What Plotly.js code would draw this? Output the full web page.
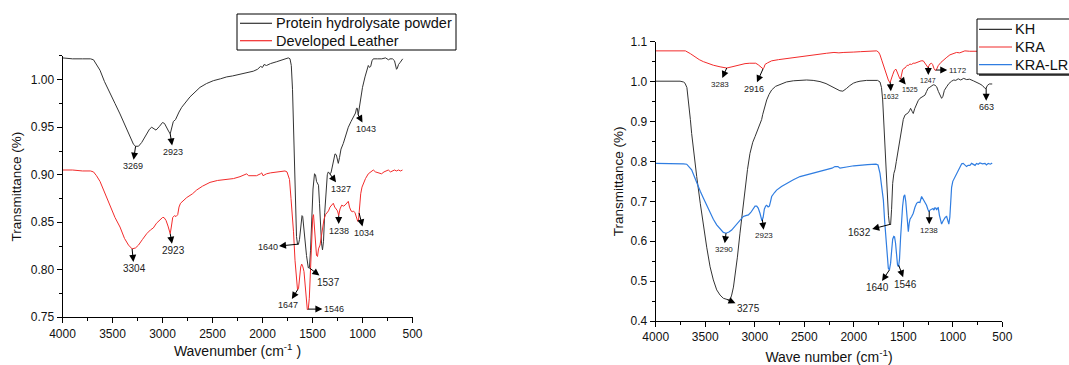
<!DOCTYPE html>
<html>
<head>
<meta charset="utf-8">
<script src="https://cdn.plot.ly/plotly-3.0.1.min.js"></script>
<style>html,body{margin:0;padding:0;background:#fff;}#chart{width:1069px;height:365px;}</style>
</head>
<body>
<div id="chart"></div>
<script>
// ---------- Left panel data ----------
const leftPhpWn = [4000,3900,3800,3720,3690,3660,3625,3580,3525,3475,3425,3375,3325,3290,3269,3240,3208,3180,3158,3130,3108,3085,3065,3030,3000,2980,2958,2940,2923,2910,2892,2870,2858,2835,2808,2770,2725,2675,2625,2560,2492,2420,2358,2300,2225,2160,2092,2050,2020,2000,1985,1960,1920,1858,1800,1760,1742,1725,1712,1700,1690,1680,1670,1660,1650,1640,1630,1618,1605,1598,1588,1575,1560,1542,1530,1520,1508,1495,1480,1470,1460,1450,1440,1430,1420,1410,1400,1390,1378,1365,1352,1342,1327,1315,1300,1290,1275,1262,1250,1242,1230,1215,1192,1170,1142,1115,1092,1070,1060,1052,1043,1035,1018,1000,975,960,942,930,918,905,892,850,808,770,740,725,700,680,670,660,652,640,625,610,598];
const leftPhpT = [1.023,1.022,1.022,1.022,1.021,1.016,1.010,0.998,0.985,0.975,0.964,0.952,0.940,0.932,0.930,0.930,0.934,0.939,0.944,0.948,0.950,0.948,0.947,0.951,0.955,0.954,0.949,0.946,0.943,0.948,0.956,0.958,0.961,0.966,0.971,0.976,0.982,0.987,0.992,0.996,0.999,1.001,1.003,1.004,1.006,1.008,1.009,1.011,1.014,1.013,1.016,1.015,1.017,1.019,1.021,1.022,1.023,1.022,1.015,0.990,0.950,0.900,0.860,0.835,0.827,0.827,0.832,0.848,0.857,0.856,0.845,0.830,0.815,0.802,0.803,0.820,0.850,0.885,0.901,0.900,0.893,0.891,0.889,0.870,0.845,0.828,0.821,0.830,0.860,0.885,0.900,0.903,0.901,0.902,0.910,0.918,0.922,0.921,0.914,0.912,0.918,0.927,0.933,0.940,0.950,0.956,0.961,0.965,0.970,0.970,0.963,0.968,0.982,0.992,1.003,1.010,1.015,1.013,1.014,1.020,1.022,1.022,1.022,1.023,1.021,1.022,1.022,1.020,1.016,1.011,1.012,1.016,1.018,1.021,1.022];

const leftLeatherWn = [4000,3900,3800,3720,3690,3660,3625,3575,3525,3475,3425,3380,3340,3304,3270,3240,3200,3158,3120,3092,3060,3030,3000,2985,2965,2945,2930,2923,2912,2898,2880,2865,2848,2835,2820,2790,2758,2700,2658,2600,2525,2450,2358,2290,2225,2175,2158,2140,2100,2060,2020,2008,1995,1960,1920,1860,1800,1775,1755,1730,1715,1700,1690,1675,1660,1650,1640,1630,1618,1608,1596,1585,1570,1560,1552,1542,1532,1520,1508,1498,1490,1480,1470,1460,1450,1440,1425,1412,1400,1385,1370,1358,1340,1325,1310,1292,1278,1262,1250,1238,1225,1208,1190,1175,1160,1142,1130,1115,1100,1092,1075,1060,1048,1040,1030,1018,1005,992,970,942,915,892,870,840,810,785,760,742,720,700,680,660,640,620,600];
const leftLeatherT = [0.905,0.905,0.904,0.904,0.903,0.899,0.893,0.880,0.866,0.855,0.845,0.833,0.826,0.822,0.823,0.826,0.832,0.838,0.842,0.844,0.849,0.852,0.855,0.855,0.852,0.846,0.840,0.838,0.845,0.855,0.857,0.856,0.858,0.866,0.870,0.873,0.876,0.880,0.884,0.888,0.892,0.894,0.895,0.896,0.898,0.900,0.901,0.899,0.899,0.899,0.901,0.902,0.899,0.901,0.902,0.903,0.904,0.904,0.903,0.895,0.875,0.855,0.840,0.810,0.785,0.779,0.780,0.792,0.803,0.806,0.803,0.798,0.780,0.765,0.758,0.759,0.770,0.800,0.835,0.855,0.858,0.840,0.825,0.815,0.814,0.822,0.826,0.836,0.845,0.853,0.858,0.860,0.862,0.866,0.868,0.870,0.866,0.864,0.862,0.857,0.864,0.868,0.867,0.868,0.870,0.872,0.866,0.862,0.861,0.862,0.860,0.855,0.851,0.852,0.865,0.880,0.887,0.891,0.896,0.901,0.903,0.905,0.903,0.902,0.901,0.903,0.904,0.905,0.903,0.904,0.905,0.904,0.905,0.904,0.905];

// ---------- Right panel data ----------
const rightKhWn = [4000,3900,3800,3754,3720,3704,3685,3670,3650,3637,3610,3586,3550,3519,3485,3451,3418,3384,3350,3317,3290,3266,3245,3233,3215,3199,3175,3149,3123,3098,3073,3048,3020,2997,2970,2947,2930,2920,2900,2879,2855,2829,2790,2745,2680,2610,2540,2476,2410,2341,2280,2230,2180,2140,2110,2090,2072,2040,2004,1970,1937,1870,1803,1760,1735,1720,1708,1695,1685,1673,1661,1650,1641,1628,1618,1607,1595,1584,1570,1550,1535,1517,1500,1483,1465,1449,1435,1426,1410,1399,1385,1365,1350,1332,1310,1295,1281,1265,1250,1231,1210,1197,1180,1163,1145,1128,1113,1100,1085,1062,1040,1012,990,970,945,920,890,860,830,793,760,726,700,675,663,652,632,615,602];
const rightKhT = [1.001,1.001,1.001,1.001,0.999,0.996,0.985,0.954,0.905,0.870,0.810,0.762,0.695,0.637,0.585,0.536,0.503,0.478,0.465,0.457,0.454,0.453,0.456,0.465,0.485,0.511,0.560,0.620,0.680,0.737,0.780,0.820,0.848,0.862,0.879,0.895,0.905,0.917,0.936,0.954,0.968,0.979,0.988,0.993,0.999,1.002,1.004,1.004,1.003,1.000,0.995,0.989,0.982,0.977,0.976,0.979,0.983,0.990,0.996,0.999,1.001,1.003,1.004,1.003,0.999,0.985,0.954,0.890,0.829,0.760,0.703,0.665,0.645,0.641,0.680,0.745,0.770,0.779,0.800,0.829,0.860,0.887,0.905,0.916,0.920,0.922,0.928,0.933,0.925,0.920,0.932,0.945,0.952,0.958,0.962,0.964,0.966,0.975,0.983,0.986,0.991,0.992,0.991,0.987,0.975,0.965,0.958,0.963,0.978,0.987,0.995,1.001,1.004,1.003,1.007,1.004,1.008,1.005,1.006,1.002,0.999,0.994,0.990,0.983,0.983,0.990,0.994,0.993,0.994];

const rightKraWn = [4000,3900,3800,3700,3650,3603,3560,3519,3470,3418,3350,3283,3230,3182,3140,3098,3050,3014,2990,2964,2945,2930,2916,2905,2896,2870,2829,2760,2678,2580,2476,2380,2274,2200,2150,2100,2072,2000,1930,1870,1800,1769,1750,1735,1715,1695,1675,1651,1634,1620,1607,1590,1574,1562,1550,1535,1527,1515,1507,1495,1483,1470,1460,1449,1435,1416,1400,1382,1365,1348,1320,1298,1280,1264,1250,1240,1231,1215,1204,1190,1178,1165,1147,1120,1096,1060,1029,1000,980,962,930,900,878,830,793,750,700,650,600];
const rightKraT = [1.077,1.077,1.077,1.077,1.070,1.062,1.055,1.050,1.045,1.041,1.037,1.034,1.037,1.040,1.043,1.045,1.046,1.045,1.046,1.042,1.037,1.033,1.032,1.036,1.043,1.047,1.052,1.055,1.058,1.061,1.065,1.068,1.071,1.073,1.072,1.073,1.073,1.074,1.075,1.076,1.077,1.077,1.074,1.067,1.052,1.037,1.020,1.004,0.997,1.005,1.017,1.028,1.031,1.024,1.014,1.007,1.006,1.018,1.029,1.033,1.034,1.038,1.041,1.040,1.044,1.043,1.046,1.046,1.048,1.050,1.052,1.052,1.046,1.039,1.035,1.040,1.044,1.046,1.043,1.033,1.028,1.030,1.040,1.048,1.054,1.061,1.067,1.070,1.071,1.073,1.072,1.076,1.077,1.076,1.076,1.075,1.076,1.075,1.076];

const rightKraLrWn = [4000,3900,3800,3720,3687,3660,3637,3610,3586,3550,3519,3485,3451,3418,3384,3350,3317,3290,3260,3233,3200,3182,3150,3115,3090,3064,3040,3015,2997,2980,2965,2947,2935,2927,2915,2903,2890,2879,2865,2852,2840,2829,2800,2779,2730,2678,2610,2543,2470,2408,2340,2274,2220,2190,2160,2139,2100,2072,2000,1937,1860,1776,1755,1735,1718,1701,1688,1675,1660,1651,1640,1628,1618,1607,1596,1588,1578,1568,1558,1548,1538,1527,1517,1507,1495,1485,1475,1466,1455,1449,1440,1432,1415,1399,1382,1365,1350,1332,1315,1300,1281,1265,1252,1240,1230,1214,1200,1190,1180,1170,1163,1155,1147,1135,1125,1113,1100,1089,1075,1062,1050,1040,1030,1020,1012,1000,980,962,945,928,910,895,878,861,845,827,810,793,775,760,743,726,700,675,660,642,620,602];
const rightKraLrT = [0.795,0.795,0.794,0.794,0.793,0.786,0.779,0.762,0.745,0.725,0.708,0.690,0.670,0.655,0.641,0.630,0.622,0.620,0.623,0.628,0.637,0.643,0.653,0.662,0.664,0.666,0.672,0.682,0.688,0.688,0.683,0.670,0.660,0.651,0.660,0.680,0.688,0.690,0.686,0.688,0.700,0.712,0.722,0.728,0.737,0.745,0.754,0.762,0.767,0.770,0.774,0.779,0.783,0.787,0.787,0.783,0.784,0.786,0.789,0.791,0.792,0.793,0.791,0.770,0.740,0.703,0.650,0.603,0.560,0.532,0.528,0.545,0.575,0.605,0.612,0.611,0.595,0.565,0.540,0.536,0.555,0.610,0.655,0.687,0.712,0.716,0.700,0.670,0.630,0.624,0.645,0.655,0.662,0.670,0.685,0.695,0.698,0.697,0.712,0.706,0.697,0.690,0.680,0.674,0.678,0.680,0.682,0.678,0.684,0.683,0.678,0.683,0.684,0.665,0.650,0.643,0.650,0.655,0.660,0.662,0.650,0.643,0.660,0.700,0.735,0.750,0.760,0.766,0.778,0.787,0.794,0.795,0.790,0.787,0.790,0.790,0.795,0.792,0.790,0.795,0.793,0.796,0.794,0.795,0.791,0.795,0.793,0.796];

// ---------- Series names ----------
const leftNames = ['Protein hydrolysate powder', 'Developed Leather'];
const rightNames = ['KH', 'KRA', 'KRA-LR'];

// ---------- Peak labels (wavenumbers) ----------
const leftPhpPeaks = [3269, 2923, 1043, 1327, 1640, 1537];
const leftLeatherPeaks = [3304, 2923, 1647, 1546, 1238, 1034];
const rightKhPeaks = [3275, 1632, 663];
const rightKraPeaks = [3283, 2916, 1632, 1525, 1247, 1172];
const rightKraLrPeaks = [3290, 2923, 1640, 1546, 1238];

// label placement (pixel offsets from the curve point) and font sizes
const leftPhpOffsets = [[-3,20],[3,18],[8,14],[11,15],[-31,3],[20,15]];
const leftPhpSizes = [9,9,9,9,9,10];
const leftLeatherOffsets = [[2,20],[3,17],[-10,16],[26,0],[0,15],[5,20]];
const leftLeatherSizes = [10,10,9,9,9,9];
const rightKhOffsets = [[21,9],[-31,8],[0,19]];
const rightKhSizes = [10,10,9];
const rightKraOffsets = [[-7,16],[-9,20],[1,14],[9,11],[0,13],[22,0]];
const rightKraSizes = [8,9,7,7,7,8];
const rightKraLrOffsets = [[-2,16],[2,16],[-12,18],[7,19],[0,19]];
const rightKraLrSizes = [8,8,10,10,8];

function interp(xs, ys, x) {
  for (let i = 0; i < xs.length - 1; i++) {
    const a = xs[i], b = xs[i + 1];
    if ((x <= a && x >= b) || (x >= a && x <= b)) {
      const t = (x - a) / (b - a);
      return ys[i] + t * (ys[i + 1] - ys[i]);
    }
  }
  return ys[ys.length - 1];
}

const FONT = 'Arial, "Liberation Sans", sans-serif';
const W = 1069, H = 365;
const annotations = [];
const shapes = [];
function addPeaks(peaks, xs, ys, offsets, sizes, xref, yref) {
  peaks.forEach((wn, i) => {
    annotations.push({
      x: wn, y: interp(xs, ys, wn), xref: xref, yref: yref,
      text: String(wn), showarrow: true,
      arrowside: 'start', startarrowhead: 2, startarrowsize: 1.4,
      arrowwidth: 1, arrowcolor: '#000', startstandoff: 0, standoff: 0,
      ax: offsets[i][0], ay: offsets[i][1],
      font: {family: FONT, size: sizes[i], color: '#222'}
    });
  });
}
addPeaks(leftPhpPeaks, leftPhpWn, leftPhpT, leftPhpOffsets, leftPhpSizes, 'x', 'y');
addPeaks(leftLeatherPeaks, leftLeatherWn, leftLeatherT, leftLeatherOffsets, leftLeatherSizes, 'x', 'y');
addPeaks(rightKhPeaks, rightKhWn, rightKhT, rightKhOffsets, rightKhSizes, 'x2', 'y2');
addPeaks(rightKraPeaks, rightKraWn, rightKraT, rightKraOffsets, rightKraSizes, 'x2', 'y2');
addPeaks(rightKraLrPeaks, rightKraLrWn, rightKraLrT, rightKraLrOffsets, rightKraLrSizes, 'x2', 'y2');

const BLACK = '#333333', RED = '#f22b2b', BLUE = '#2f7de1';

// ---------- Boxed legends (Origin style), drawn in paper pixels ----------
function px(x) { return x / W; }
function py(y) { return 1 - y / H; }
function addLegend(names, colors, box, rowY, lineX0, lineX1, textX, size, shadow) {
  if (shadow) {
    shapes.push({type: 'rect', xref: 'paper', yref: 'paper', layer: 'above',
      x0: px(box[0] + 2), x1: px(box[1] + 2), y0: py(box[2] + 2), y1: py(box[3] + 2),
      fillcolor: '#555', line: {width: 0}});
  }
  shapes.push({type: 'rect', xref: 'paper', yref: 'paper', layer: 'above',
    x0: px(box[0]), x1: px(box[1]), y0: py(box[2]), y1: py(box[3]),
    fillcolor: '#fff', line: {color: '#000', width: 1}});
  names.forEach((n, i) => {
    shapes.push({type: 'line', xref: 'paper', yref: 'paper', layer: 'above',
      x0: px(lineX0), x1: px(lineX1), y0: py(rowY[i]), y1: py(rowY[i]),
      line: {color: colors[i], width: 1.2}});
    annotations.push({xref: 'paper', yref: 'paper', x: px(textX), y: py(rowY[i]),
      xanchor: 'left', yanchor: 'middle', showarrow: false, text: n,
      font: {family: FONT, size: size, color: '#111'}});
  });
}
addLegend(leftNames, [BLACK, RED], [237, 456, 14, 50], [23.3, 40.7], 240, 272, 274, 14.5, false);
addLegend(rightNames, [BLACK, RED, BLUE], [977, 1080, 19, 74], [29.3, 47, 64.7], 979, 1012, 1013, 14.5, true);

const traces = [
  {x: leftPhpWn, y: leftPhpT, name: leftNames[0], mode: 'lines', line: {color: BLACK, width: 1}, xaxis: 'x', yaxis: 'y'},
  {x: leftLeatherWn, y: leftLeatherT, name: leftNames[1], mode: 'lines', line: {color: RED, width: 1}, xaxis: 'x', yaxis: 'y'},
  {x: rightKhWn, y: rightKhT, name: rightNames[0], mode: 'lines', line: {color: BLACK, width: 1}, xaxis: 'x2', yaxis: 'y2'},
  {x: rightKraWn, y: rightKraT, name: rightNames[1], mode: 'lines', line: {color: RED, width: 1}, xaxis: 'x2', yaxis: 'y2'},
  {x: rightKraLrWn, y: rightKraLrT, name: rightNames[2], mode: 'lines', line: {color: BLUE, width: 1.2}, xaxis: 'x2', yaxis: 'y2'}
];

const axisCommon = {
  showline: true, linecolor: '#000', linewidth: 1, mirror: false,
  showgrid: false, zeroline: false,
  ticks: 'outside', ticklen: 5, tickwidth: 1, tickcolor: '#000',
  tickfont: {family: FONT, size: 12, color: '#111'}
};

const layout = {
  width: W, height: H,
  margin: {l: 0, r: 0, t: 0, b: 0, autoexpand: false},
  paper_bgcolor: '#fff', plot_bgcolor: '#fff',
  font: {family: FONT, color: '#111'},
  showlegend: false,
  xaxis: Object.assign({}, axisCommon, {
    domain: [0.05847, 0.38588], range: [4000, 500], anchor: 'y',
    tick0: 500, dtick: 500,
    minor: {dtick: 250, tick0: 500, ticks: 'outside', ticklen: 3, tickcolor: '#000', showgrid: false},
    title: {text: 'Wavenumber (cm<sup>-1</sup> )', font: {family: FONT, size: 14, color: '#111'}, standoff: 6}
  }),
  yaxis: Object.assign({}, axisCommon, {
    domain: [0.1307, 0.8466], range: [0.75, 1.025], anchor: 'x',
    tick0: 0.75, dtick: 0.05, tickformat: '.2f',
    minor: {dtick: 0.025, tick0: 0.75, ticks: 'outside', ticklen: 3, tickcolor: '#000', showgrid: false},
    title: {text: 'Transmittance (%)', font: {family: FONT, size: 13.5, color: '#111'}, standoff: 6}
  }),
  xaxis2: Object.assign({}, axisCommon, {
    domain: [0.61338, 0.93761], range: [4000, 500], anchor: 'y2',
    tick0: 500, dtick: 500,
    minor: {dtick: 250, tick0: 500, ticks: 'outside', ticklen: 3, tickcolor: '#000', showgrid: false},
    title: {text: 'Wave number (cm<sup>-1</sup>)', font: {family: FONT, size: 14, color: '#111'}, standoff: 11}
  }),
  yaxis2: Object.assign({}, axisCommon, {
    domain: [0.1205, 0.8858], range: [0.4, 1.1], anchor: 'x2',
    tick0: 0.4, dtick: 0.1, tickformat: '.1f',
    minor: {dtick: 0.05, tick0: 0.4, ticks: 'outside', ticklen: 3, tickcolor: '#000', showgrid: false},
    title: {text: 'Transmittance (%)', font: {family: FONT, size: 13.5, color: '#111'}, standoff: 3}
  }),
  shapes: shapes,
  annotations: annotations
};

Plotly.newPlot('chart', traces, layout, {displayModeBar: false, staticPlot: true});
</script>
</body>
</html>
